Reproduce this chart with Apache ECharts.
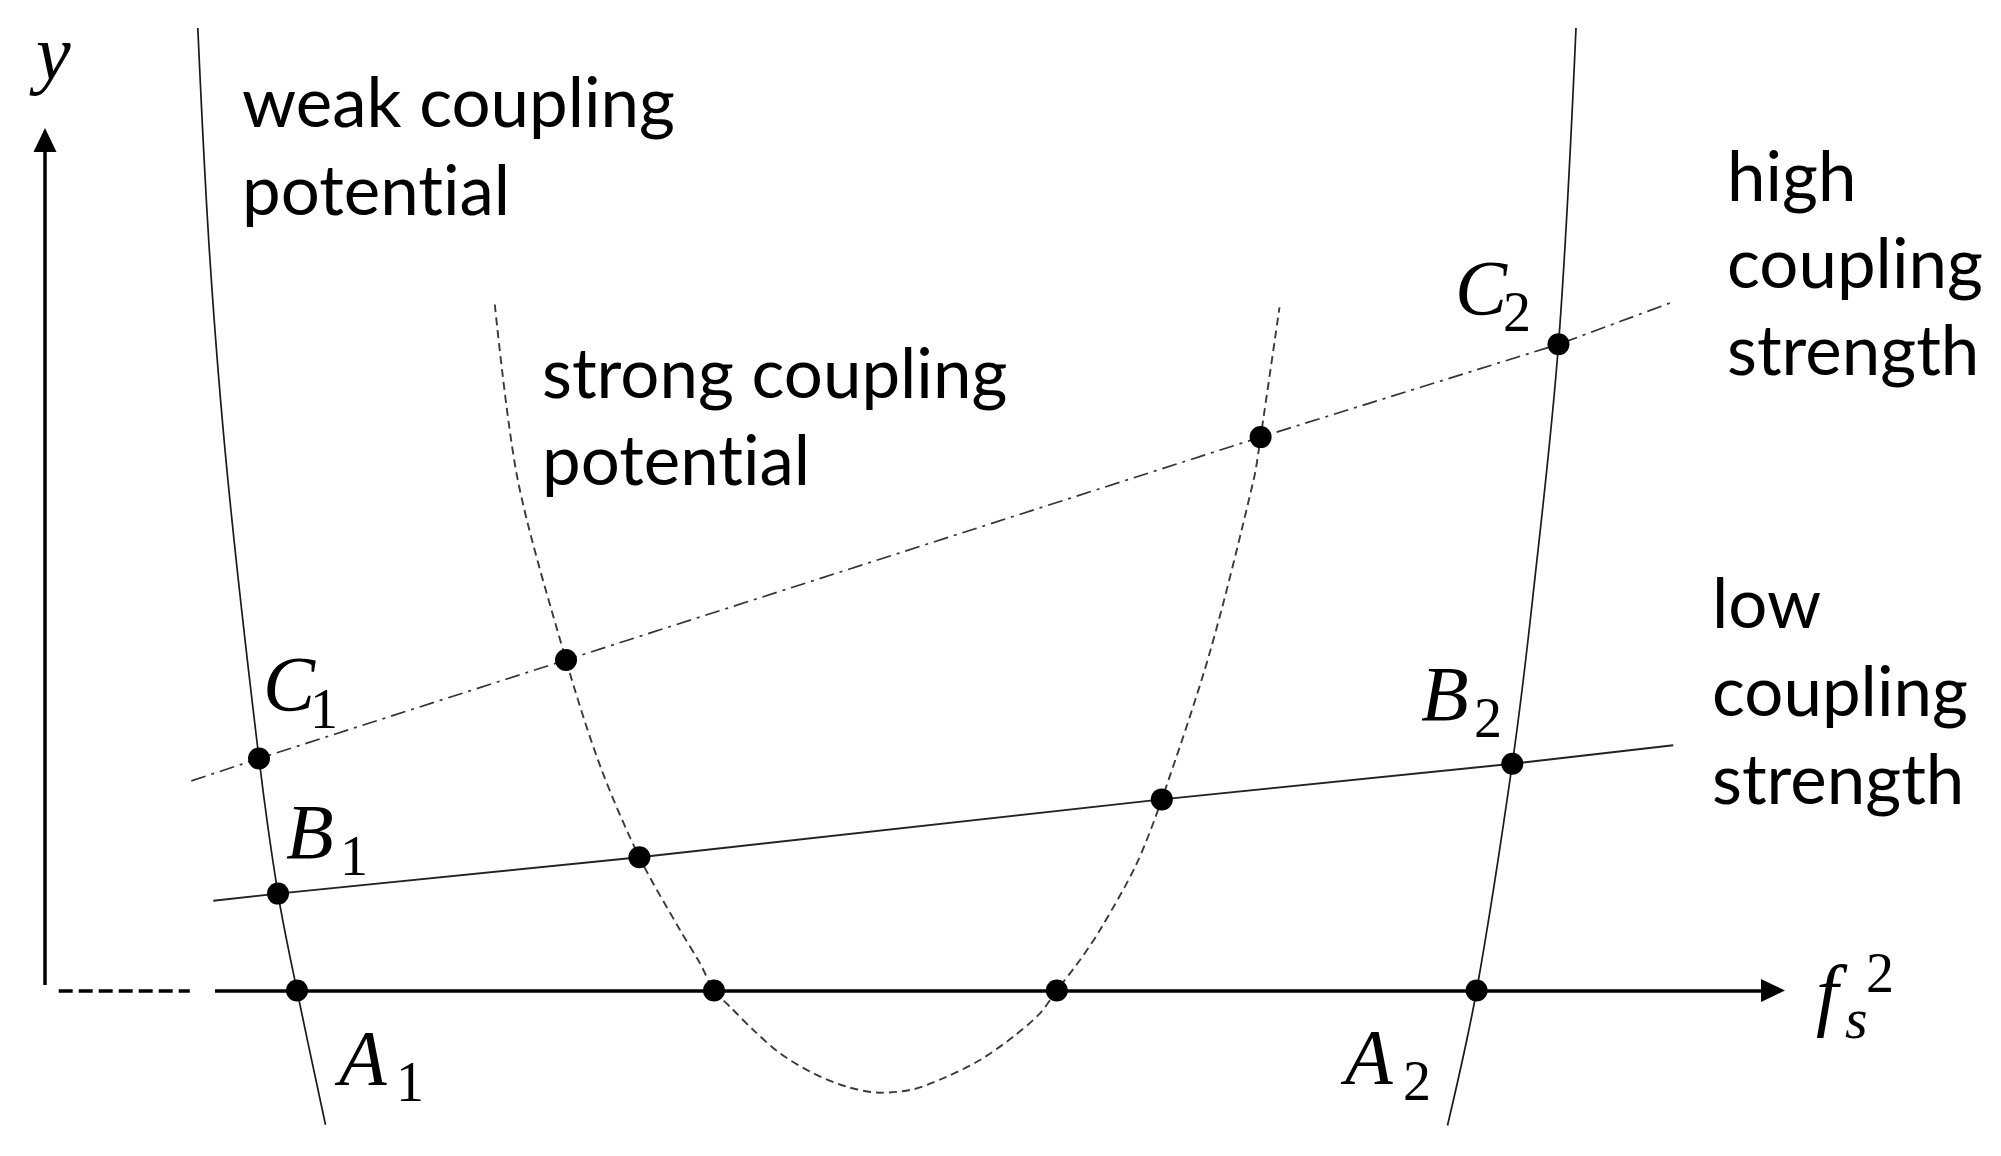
<!DOCTYPE html>
<html>
<head>
<meta charset="utf-8">
<script src="https://cdn.jsdelivr.net/npm/echarts@6/dist/echarts.min.js"></script>
<style>
  html, body { margin: 0; background: #fff; }
  #chart { width: 2001px; height: 1156px; }
</style>
</head>
<body>
<div id="chart"></div>
<script>
// schematic units: x = f_s^2, y = y (origin where the axes meet)
const weakLeft = [[1.528, 9.625], [1.65, 7.305], [1.827, 5.125], [2.14, 2.32], [2.33, 0.969], [2.52, 0], [2.805, -1.343]];
const weakRight = [[15.31, 9.625], [15.135, 6.462], [14.875, 3.905], [14.673, 2.268], [14.316, 0], [14.025, -1.35]];
const strongPot = [
  [4.498, 6.86], [4.727, 5.109], [5.21, 3.305], [5.554, 2.239], [5.944, 1.332], [6.35, 0.605],
  [6.55, 0.272], [6.69, 0], [6.85, -0.162], [7.083, -0.395], [7.35, -0.628], [7.683, -0.828],
  [8.017, -0.962], [8.35, -1.022], [8.683, -0.988], [9.017, -0.862], [9.35, -0.695], [9.683, -0.462],
  [9.95, -0.228], [10.118, 0], [10.35, 0.305], [10.55, 0.605], [10.91, 1.255], [11.168, 1.911],
  [11.65, 3.387], [12.087, 5.109], [12.156, 5.534], [12.345, 6.831]
];
const highStrength = [[1.463, 2.096], [2.14, 2.32], [5.21, 3.305], [12.156, 5.534], [15.135, 6.462], [16.25, 6.875]];
const lowStrength = [[1.683, 0.898], [2.33, 0.969], [5.944, 1.332], [11.168, 1.911], [14.673, 2.268], [16.283, 2.452]];
const crossings = [
  [2.52, 0], [2.33, 0.969], [2.14, 2.32], [5.21, 3.305], [5.944, 1.332], [6.69, 0],
  [10.118, 0], [11.168, 1.911], [12.156, 5.534], [14.316, 0], [14.673, 2.268], [15.135, 6.462]
];
const xAxisLine = [[1.7, 0], [17.28, 0]];
const xAxisDashed = [[0.137, 0], [1.448, 0]];
const yAxisLine = [[0, 0.055], [0, 8.505]];

const chart = echarts.init(document.getElementById('chart'));

const LATO = 'Lato';
const SERIF = '"Liberation Serif"';

// zrender draws each line with textBaseline "middle"; find how far the
// alphabetic baseline sits below that so labels can be placed by baseline
const probe = document.createElement('canvas').getContext('2d');
function baseShift(font) {
  probe.font = font;
  probe.textBaseline = 'alphabetic';
  const a = probe.measureText('x').actualBoundingBoxAscent;
  probe.textBaseline = 'middle';
  const b = probe.measureText('x').actualBoundingBoxAscent;
  return a - b;
}

function txt(str, x, base, size, family, italic, step) {
  const font = (italic ? 'italic ' : '') + size + 'px ' + family;
  const shift = baseShift(font);
  return str.split('\n').map((line, i) => ({
    type: 'text',
    silent: true,
    style: {
      text: line,
      x: x,
      y: base + i * (step || 0) - shift,
      font: font,
      fill: '#000',
      align: 'left',
      verticalAlign: 'middle'
    }
  }));
}

const ZW = '\u200C'; // keeps "t" and "i" apart (no ligature)
const T = 69; // body text size
const M = 78; // math letter size
const S = 56; // sub/superscript size
const graphics = [].concat(
  txt('weak coupling\npotent' + ZW + 'ial', 242, 127, T, LATO, false, 88),
  txt('strong coupling\npotent' + ZW + 'ial', 542, 398, T, LATO, false, 87),
  txt('high\ncoupling\nstrength', 1727, 201, T, LATO, false, 87),
  txt('low\ncoupling\nstrength', 1712, 628, T, LATO, false, 88),
  txt('y', 36, 79, M, SERIF, true),
  txt('C', 263, 710, M, SERIF, true), txt('1', 310, 728, S, SERIF, false),
  txt('B', 286, 858, M, SERIF, true), txt('1', 340, 875, S, SERIF, false),
  txt('A', 339, 1084, M, SERIF, true), txt('1', 396, 1101, S, SERIF, false),
  txt('C', 1455, 314, M, SERIF, true), txt('2', 1503, 331, S, SERIF, false),
  txt('B', 1421, 720, M, SERIF, true), txt('2', 1474, 737, S, SERIF, false),
  txt('A', 1345, 1083, M, SERIF, true), txt('2', 1403, 1100, S, SERIF, false),
  txt('f', 1816, 1021, 80, SERIF, true), txt('s', 1845, 1038, 58, SERIF, true), txt('2', 1866, 992, S, SERIF, false)
);

const curve = (name, data, lineStyle, smooth) => ({
  name: name,
  type: 'line',
  data: data,
  symbol: 'none',
  smooth: smooth,
  lineStyle: lineStyle,
  z: 2
});

const option = {
  animation: false,
  grid: { left: 0, right: 0, top: 0, bottom: 0 },
  xAxis: { type: 'value', min: -0.45, max: 19.56, show: false },
  yAxis: { type: 'value', min: -1.655, max: 9.905, show: false },
  graphic: graphics,
  series: [
    curve('weak coupling potential', weakLeft, { color: '#1a1a1a', width: 1.7 }, 0.35),
    curve('weak coupling potential', weakRight, { color: '#1a1a1a', width: 1.7 }, 0.35),
    curve('strong coupling potential', strongPot, { color: '#3a3a3a', width: 1.9, type: [8, 5] }, 0.3),
    curve('high coupling strength', highStrength, { color: '#333', width: 1.7, type: [15, 6, 3, 6] }, false),
    curve('low coupling strength', lowStrength, { color: '#222', width: 1.9 }, false),
    {
      name: 'axes',
      type: 'line',
      data: [],
      markLine: {
        silent: true,
        label: { show: false },
        symbolSize: [23, 24],
        data: [
          [{ coord: xAxisLine[0], symbol: 'none' }, { coord: xAxisLine[1], symbol: 'triangle' }],
          [{ coord: yAxisLine[0], symbol: 'none' }, { coord: yAxisLine[1], symbol: 'triangle' }],
          [
            { coord: xAxisDashed[0], symbol: 'none', lineStyle: { type: [14, 6] } },
            { coord: xAxisDashed[1], symbol: 'none' }
          ]
        ],
        lineStyle: { color: '#000', width: 3.5, type: 'solid' },
        itemStyle: { color: '#000' }
      }
    },
    {
      name: 'crossings',
      type: 'scatter',
      data: crossings,
      symbol: 'circle',
      symbolSize: 22,
      itemStyle: { color: '#000', opacity: 1 },
      z: 5
    }
  ]
};

chart.setOption(option);
</script>
</body>
</html>
